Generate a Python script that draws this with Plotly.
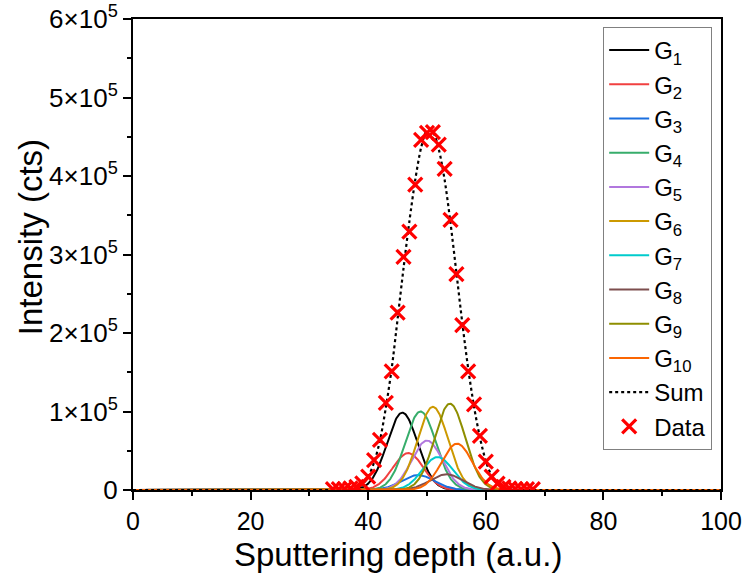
import numpy as np
import plotly.graph_objects as go

# ---- data ----
comp_names = ["G<sub>1</sub>", "G<sub>2</sub>", "G<sub>3</sub>", "G<sub>4</sub>", "G<sub>5</sub>",
              "G<sub>6</sub>", "G<sub>7</sub>", "G<sub>8</sub>", "G<sub>9</sub>", "G<sub>10</sub>"]
comp_centers = [45.8, 46.8, 48.5, 48.9, 50.0, 51.0, 51.8, 53.3, 53.9, 55.1]
comp_amps = [0.985e5, 0.47e5, 0.19e5, 1.00e5, 0.63e5, 1.06e5, 0.42e5, 0.20e5, 1.10e5, 0.59e5]
comp_sigmas = [2.6, 2.6, 2.8, 2.6, 2.6, 2.6, 2.6, 2.8, 2.6, 2.6]
comp_colors = ["#000000", "#F14040", "#1A6FDF", "#37AD6B", "#B177DE",
               "#CC9900", "#00CBCC", "#7D4E4E", "#8E8E00", "#FB6501"]

sum_x = [0, 35, 36, 37, 38, 39, 40, 41, 42, 43, 44, 45, 46, 47, 48, 49, 50, 51,
         52, 53, 54, 55, 56, 57, 58, 59, 60, 61, 62, 63, 64, 65, 66, 100]
sum_y = [0, 0, 0.002e5, 0.006e5, 0.02e5, 0.07e5, 0.17e5, 0.35e5, 0.63e5, 1.05e5, 1.55e5,
         2.18e5, 2.82e5, 3.42e5, 3.95e5, 4.36e5, 4.58e5, 4.56e5, 4.34e5, 3.95e5, 3.40e5,
         2.77e5, 2.13e5, 1.55e5, 1.06e5, 0.67e5, 0.37e5, 0.18e5, 0.08e5, 0.03e5, 0.01e5,
         0.003e5, 0, 0]

data_x = [34, 35, 36, 37, 38, 39, 40, 41, 42, 43, 44, 45, 46, 47, 48, 49, 50, 51, 52,
          53, 54, 55, 56, 57, 58, 59, 60, 61, 62, 63, 64, 65, 66, 67, 68]
data_y = [0.01e5, 0.01e5, 0.015e5, 0.02e5, 0.04e5, 0.085e5, 0.17e5, 0.38e5, 0.64e5,
          1.11e5, 1.51e5, 2.26e5, 2.97e5, 3.29e5, 3.89e5, 4.46e5, 4.55e5, 4.56e5, 4.40e5,
          4.09e5, 3.44e5, 2.75e5, 2.10e5, 1.51e5, 1.09e5, 0.69e5, 0.36e5, 0.17e5, 0.08e5,
          0.04e5, 0.02e5, 0.015e5, 0.01e5, 0.01e5, 0.01e5]

x_tickvals = [0, 20, 40, 60, 80, 100]
y_tickvals = [0, 1e5, 2e5, 3e5, 4e5, 5e5, 6e5]
y_ticktext = ["0", "1×10<sup>5</sup>", "2×10<sup>5</sup>", "3×10<sup>5</sup>",
              "4×10<sup>5</sup>", "5×10<sup>5</sup>", "6×10<sup>5</sup>"]

FONT = "Liberation Sans, Arial, sans-serif"

fig = go.Figure()
xg = np.linspace(0, 100, 1001)
for name, c, a, s, col in zip(comp_names, comp_centers, comp_amps, comp_sigmas, comp_colors):
    fig.add_trace(go.Scatter(x=xg, y=a * np.exp(-(xg - c) ** 2 / (2 * s ** 2)),
                             mode="lines", name=name, line=dict(color=col, width=2)))

fig.add_trace(go.Scatter(x=sum_x, y=sum_y, mode="lines", name="Sum",
                         line=dict(color="black", width=2.2, dash="dot", shape="spline",
                                   smoothing=0.8)))
fig.add_trace(go.Scatter(x=data_x, y=data_y, mode="markers", name="Data",
                         marker=dict(symbol="x-thin", size=14, color="#FF0000",
                                     line=dict(color="#FF0000", width=3.2))))

axis_common = dict(showline=True, linecolor="black", linewidth=2, mirror=True,
                   ticks="outside", ticklen=8, tickwidth=1.5, tickcolor="black",
                   showgrid=False, zeroline=False, automargin=False)

fig.update_xaxes(range=[0, 100], tickvals=x_tickvals,
                 tickfont=dict(family=FONT, size=25, color="black"),
                 minor=dict(dtick=10, tick0=0, ticks="outside", ticklen=4, tickcolor="black",
                            tickwidth=1.5),
                 **axis_common)
fig.update_yaxes(range=[0, 6e5], tickvals=y_tickvals, ticktext=y_ticktext,
                 tickfont=dict(family=FONT, size=26, color="black"),
                 minor=dict(tickvals=[0.5e5, 1.5e5, 2.5e5, 3.5e5, 4.5e5, 5.5e5], ticks="outside",
                            ticklen=4, tickcolor="black", tickwidth=1.5),
                 **axis_common)

fig.add_annotation(text="Sputtering depth (a.u.)", xref="paper", yref="paper",
                   x=0.4507, y=-0.137, xanchor="center", yanchor="middle", showarrow=False,
                   font=dict(family=FONT, size=33, color="black"))
fig.add_annotation(text="Intensity (cts)", xref="paper", yref="paper",
                   x=-0.175, y=0.537, xanchor="center", yanchor="middle", showarrow=False,
                   textangle=-90, font=dict(family=FONT, size=33, color="black"))

fig.update_layout(
    width=743, height=583,
    margin=dict(l=133, r=22, t=19, b=93),
    plot_bgcolor="white", paper_bgcolor="white",
    font=dict(family=FONT, color="black"),
    legend=dict(x=0.985, y=0.983, xanchor="right", yanchor="top",
                bordercolor="#808080", borderwidth=1, bgcolor="white",
                font=dict(family=FONT, size=24, color="black"),
                tracegroupgap=0, itemwidth=40),
    showlegend=True,
)

fig.write_html("out.html")
